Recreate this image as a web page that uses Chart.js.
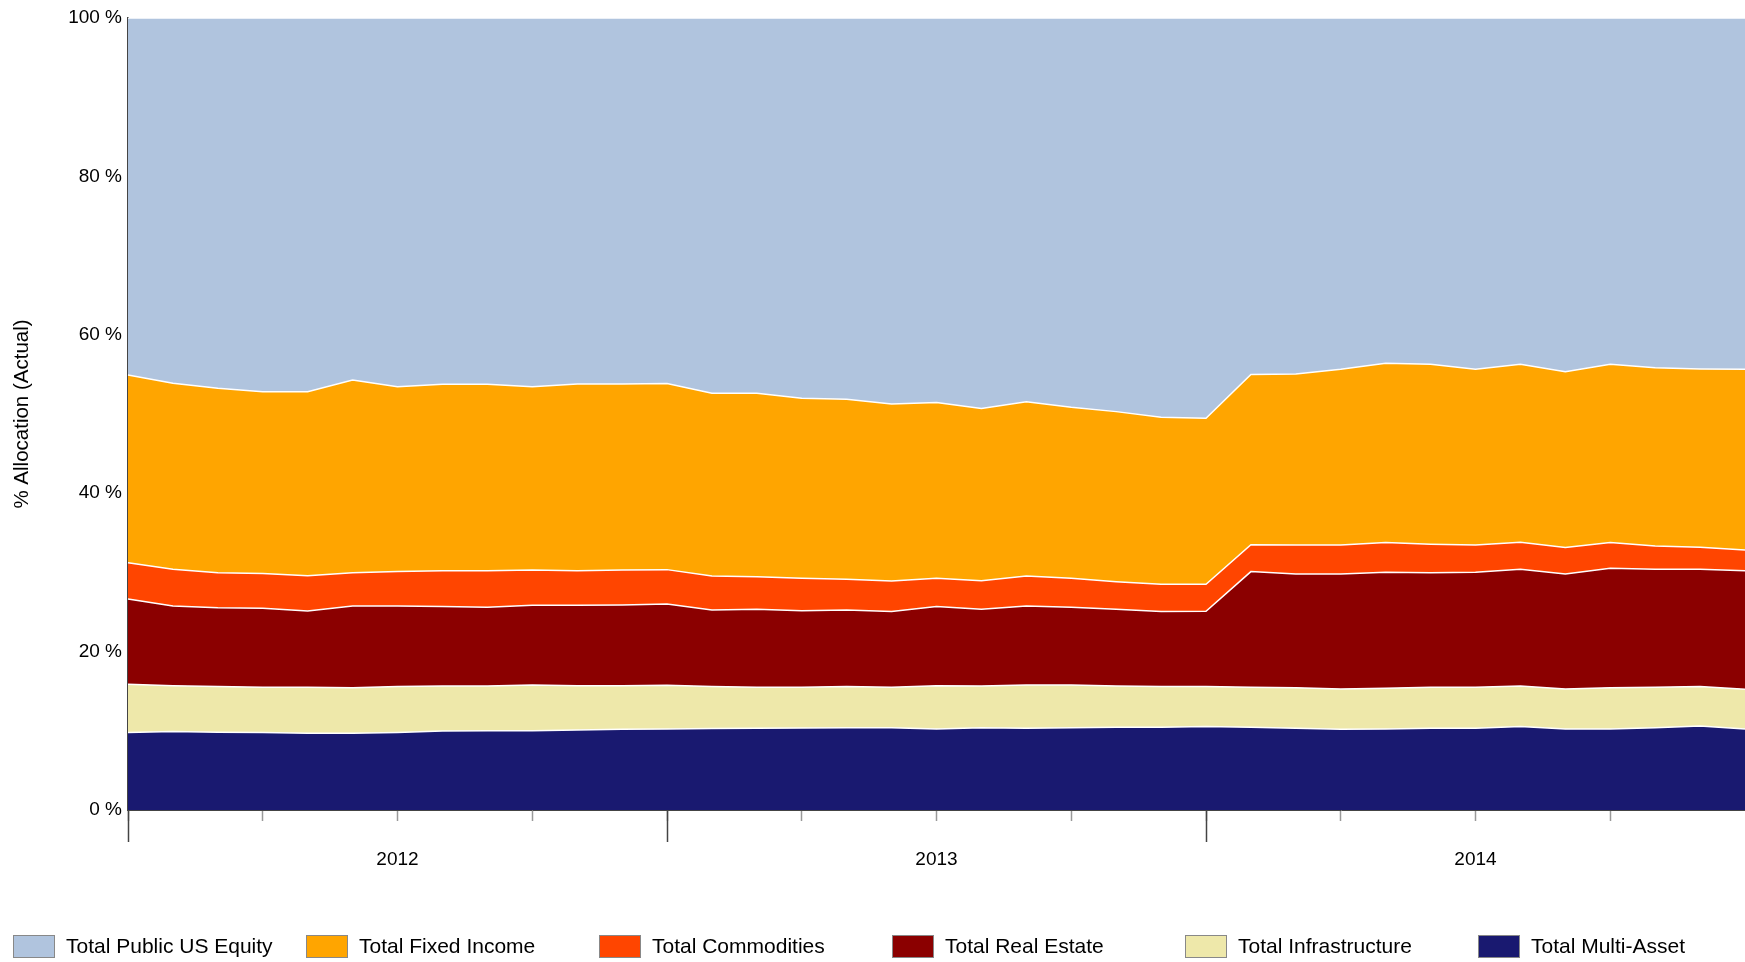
<!DOCTYPE html>
<html>
<head>
<meta charset="utf-8">
<script src="https://cdn.jsdelivr.net/npm/chart.js@4/dist/chart.umd.min.js"></script>
<style>
html,body{margin:0;padding:0;background:#ffffff;}
#wrap{width:1745px;height:962px;position:relative;}
</style>
</head>
<body>
<div id="wrap"><canvas id="c" width="1745" height="962"></canvas></div>
<script>
// Monthly observation dates
const months = [
  "2012-01","2012-02","2012-03","2012-04","2012-05","2012-06","2012-07","2012-08","2012-09","2012-10","2012-11","2012-12",
  "2013-01","2013-02","2013-03","2013-04","2013-05","2013-06","2013-07","2013-08","2013-09","2013-10","2013-11","2013-12",
  "2014-01","2014-02","2014-03","2014-04","2014-05","2014-06","2014-07","2014-08","2014-09","2014-10","2014-11","2014-12",
  "2015-01"
];
const yearLabels = ["2012","2013","2014"];
const yTickValues = [0,20,40,60,80,100];

// % allocation by asset class
const multiAsset = [9.77,9.90,9.81,9.77,9.68,9.68,9.77,9.98,10.02,10.02,10.11,10.19,10.24,10.28,10.32,10.36,10.40,10.40,10.23,10.40,10.32,10.40,10.44,10.44,10.53,10.44,10.32,10.19,10.23,10.32,10.32,10.53,10.23,10.23,10.40,10.61,10.23];
const infrastructure = [6.10,5.80,5.77,5.72,5.81,5.77,5.81,5.68,5.64,5.77,5.59,5.51,5.52,5.30,5.17,5.13,5.18,5.09,5.47,5.26,5.47,5.39,5.22,5.14,5.05,5.05,5.13,5.09,5.14,5.17,5.17,5.13,5.05,5.22,5.09,4.97,5.01];
const realEstate = [10.78,10.06,9.97,9.98,9.64,10.31,10.18,10.02,9.93,10.06,10.15,10.19,10.24,9.68,9.85,9.68,9.68,9.56,9.98,9.68,9.97,9.80,9.68,9.47,9.51,14.61,14.35,14.52,14.64,14.48,14.52,14.73,14.52,15.07,14.90,14.81,14.98];
const commodities = [4.58,4.63,4.42,4.38,4.46,4.21,4.34,4.54,4.63,4.46,4.37,4.42,4.35,4.29,4.12,4.08,3.87,3.87,3.57,3.62,3.79,3.66,3.49,3.45,3.41,3.40,3.66,3.66,3.75,3.58,3.45,3.41,3.33,3.24,2.95,2.78,2.61];
const fixedIncome = [23.70,23.49,23.28,22.97,23.23,24.33,23.35,23.53,23.53,23.14,23.57,23.48,23.49,23.06,23.15,22.73,22.73,22.35,22.19,21.72,22.01,21.60,21.47,21.08,20.96,21.50,21.59,22.18,22.64,22.72,22.18,22.47,22.22,22.51,22.51,22.52,22.81];
const publicUSEquity = [45.07,46.12,46.75,47.18,47.18,45.70,46.55,46.25,46.25,46.55,46.21,46.21,46.16,47.39,47.39,48.02,48.14,48.73,48.56,49.32,48.44,49.15,49.70,50.42,50.54,45.00,44.95,44.36,43.60,43.73,44.36,43.73,44.65,43.73,44.15,44.31,44.36];

const seriesNames = ["Total Public US Equity","Total Fixed Income","Total Commodities","Total Real Estate","Total Infrastructure","Total Multi-Asset"];
const seriesColors = ["#B0C4DE","#FFA500","#FF4500","#8B0000","#EEE8AA","#191970"];
const seriesValues = [publicUSEquity, fixedIncome, commodities, realEstate, infrastructure, multiAsset];

const FONT = '"Liberation Sans", Arial, sans-serif';

// stacking order: bottom first
const datasets = [];
for (let k = seriesNames.length - 1; k >= 0; k--) {
  datasets.push({
    label: seriesNames[k],
    data: seriesValues[k],
    backgroundColor: seriesColors[k],
    borderColor: '#ffffff',
    borderWidth: 1.5,
    pointRadius: 0,
    tension: 0,
    fill: datasets.length === 0 ? 'origin' : '-1'
  });
}

const majorTicks = {
  id: 'majorTicks',
  afterDraw(chart) {
    const xs = chart.scales.x;
    const b = chart.chartArea.bottom;
    const ctx = chart.ctx;
    ctx.save();
    ctx.strokeStyle = '#444';
    ctx.lineWidth = 1.5;
    for (let i = 0; i < months.length - 1; i += 12) {
      const px = Math.round(xs.getPixelForValue(i)) + 0.5;
      ctx.beginPath();
      ctx.moveTo(px, b);
      ctx.lineTo(px, b + 32);
      ctx.stroke();
    }
    ctx.restore();
  }
};

const gridLegend = {
  id: 'gridLegend',
  afterDraw(chart) {
    const ctx = chart.ctx;
    ctx.save();
    seriesNames.forEach((name, i) => {
      const x0 = 13 + i * 293;
      const y0 = 935;
      ctx.fillStyle = seriesColors[i];
      ctx.fillRect(x0, y0, 42, 23);
      ctx.strokeStyle = '#888';
      ctx.lineWidth = 1;
      ctx.strokeRect(x0 + 0.5, y0 + 0.5, 41, 22);
      ctx.fillStyle = '#000';
      ctx.font = '21px ' + FONT;
      ctx.textBaseline = 'middle';
      ctx.textAlign = 'left';
      ctx.fillText(name, x0 + 53, y0 + 12);
    });
    ctx.restore();
  }
};

new Chart(document.getElementById('c'), {
  type: 'line',
  data: { labels: months, datasets },
  plugins: [majorTicks, gridLegend],
  options: {
    responsive: false,
    animation: false,
    devicePixelRatio: 1,
    layout: { padding: { top: 18, right: 0, left: 0, bottom: 82 } },
    plugins: { legend: { display: false }, tooltip: { enabled: false } },
    scales: {
      x: {
        type: 'category',
        offset: false,
        grid: { display: true, drawOnChartArea: false, drawTicks: true, tickLength: 11, color: '#999', tickColor: '#999', tickWidth: 1.5 },
        border: { display: true, color: '#444', width: 1 },
        ticks: {
          autoSkip: false, maxRotation: 0, minRotation: 0, padding: 27,
          color: '#000', font: { family: FONT, size: 19 },
          callback: (v, i) => {
            if (i % 3 !== 0 || i === months.length - 1) return null;
            if (i % 12 === 6) return yearLabels[(i - 6) / 12];
            return '';
          }
        },
        afterFit: s => { s.height = 70; s.paddingRight = 0; s.paddingLeft = 0; }
      },
      y: {
        stacked: true,
        min: 0, max: 100,
        afterBuildTicks: s => { s.ticks = yTickValues.map(v => ({ value: v })); },
        grid: { display: true, drawOnChartArea: false, drawTicks: false },
        border: { display: true, color: '#444', width: 1.5 },
        ticks: { color: '#000', font: { family: FONT, size: 19 }, padding: 6, callback: v => v + ' %' },
        title: { display: true, text: '% Allocation (Actual)', color: '#000', font: { family: FONT, size: 20.5 }, padding: { top: 10, bottom: 0 } },
        afterFit: s => { s.width = 128; }
      }
    }
  }
});
</script>
</body>
</html>
